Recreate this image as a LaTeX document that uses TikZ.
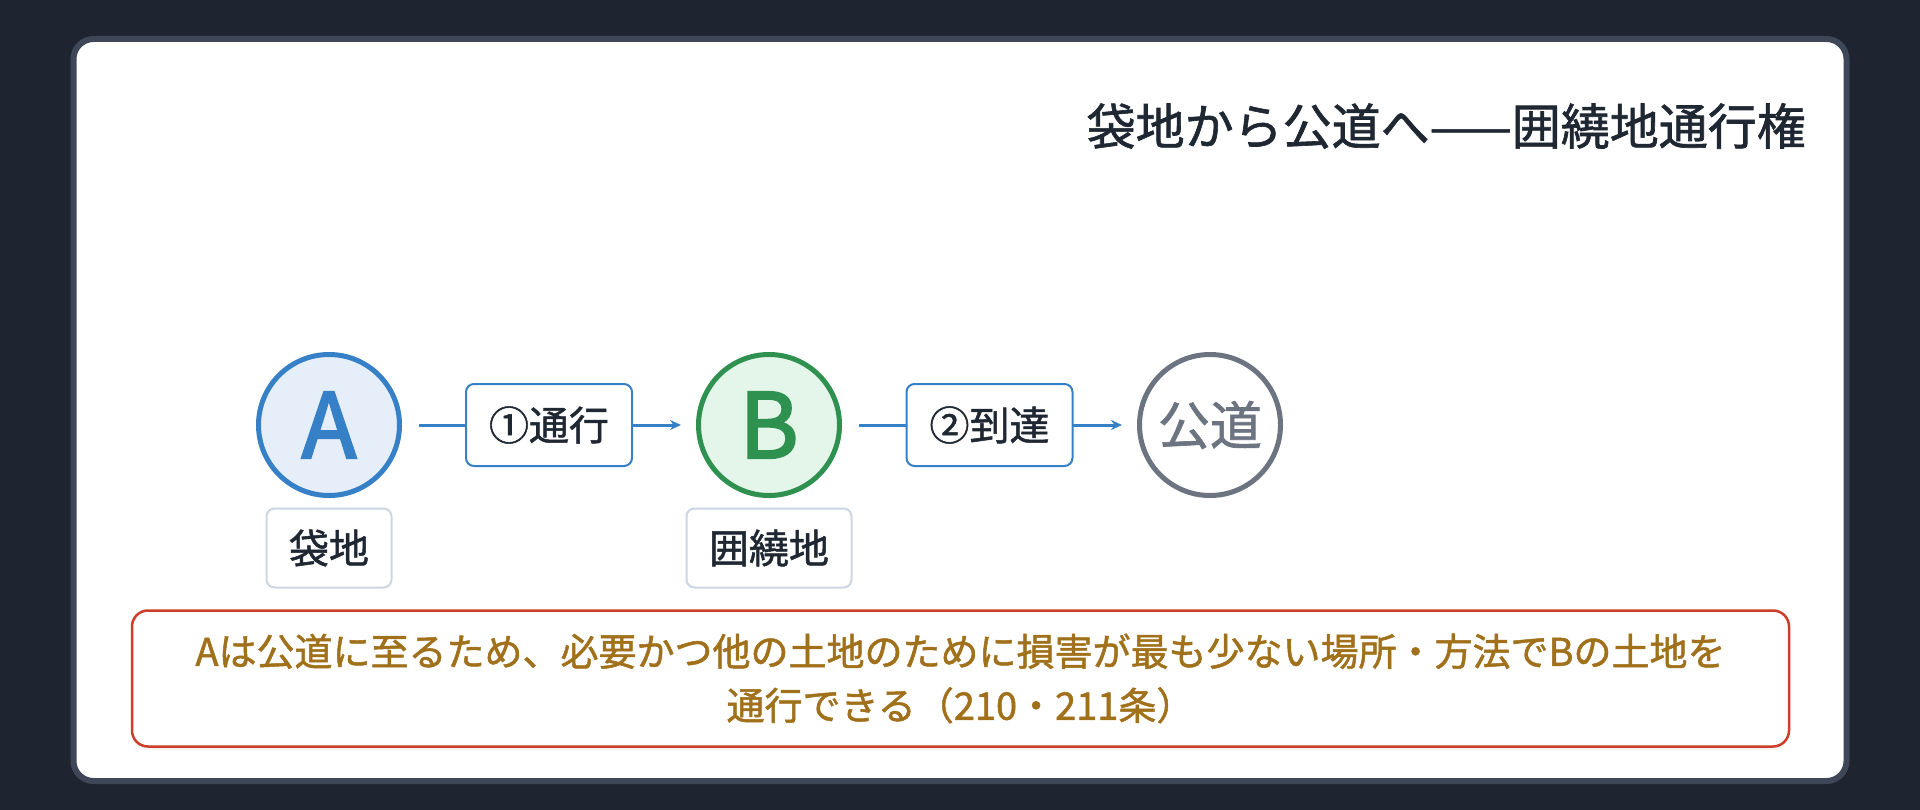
\documentclass[tikz,border=0pt]{standalone}
\usepackage{fontspec}
\setmainfont{Noto Sans CJK JP}
\newfontfamily\medfont{Noto Sans CJK JP}[FakeBold=1.3]
\newfontfamily\letterfont{Noto Sans CJK JP}[FakeBold=2.6]
\usetikzlibrary{shadows,arrows.meta}
\definecolor{bgdark}{HTML}{1E2430}
\definecolor{framegray}{HTML}{3E4757}
\definecolor{ablue}{HTML}{3580C6}
\definecolor{afill}{HTML}{E5EEF9}
\definecolor{bgreen}{HTML}{2F9150}
\definecolor{bfill}{HTML}{E4F5E9}
\definecolor{roadgray}{HTML}{6B7480}
\definecolor{tagborder}{HTML}{CDD6E2}
\definecolor{inkdark}{HTML}{1F2733}
\definecolor{notered}{HTML}{CC3D2A}
\definecolor{notegold}{HTML}{A0701A}
\tikzset{
  softshadow/.style={drop shadow={opacity=0.10,shadow xshift=0pt,shadow yshift=-3pt}},
  landcircle/.style={circle,minimum size=141,inner sep=0,line width=5,softshadow},
  tagbox/.style={draw=tagborder,line width=2,rounded corners=8,fill=white,inner xsep=22.5,inner ysep=0,minimum height=79,text=inkdark,font=\medfont\fontsize{40}{40}\selectfont},
  edgebox/.style={draw=ablue,line width=2,rounded corners=8,fill=white,inner xsep=23,inner ysep=0,minimum height=82,text=inkdark,font=\medfont\fontsize{40}{40}\selectfont},
  conn/.style={draw=ablue,line width=3,-{Stealth[length=11,width=10]},shorten <=17,shorten >=15},
}
\begin{document}
\begin{tikzpicture}[x=1pt,y=-1pt]
\useasboundingbox (0,0) rectangle (1920,810);
\fill[bgdark] (0,0) rectangle (1920,810);
\draw[framegray,line width=6,rounded corners=20,fill=white] (73.5,39) rectangle (1846.5,781);

\node[anchor=east,inner sep=0,text=inkdark,font=\medfont\fontsize{49}{49}\selectfont] (title) at (1806,126) {袋地から公道へ——囲繞地通行権};

\node[landcircle,draw=ablue,fill=afill,text=ablue,font=\letterfont\fontsize{90}{90}\selectfont] (A) at (329,425) {A};
\node[landcircle,draw=bgreen,fill=bfill,text=bgreen,font=\letterfont\fontsize{90}{90}\selectfont] (B) at (769,425) {B};
\node[landcircle,draw=roadgray,fill=white,text=roadgray,font=\medfont\fontsize{52}{52}\selectfont] (R) at (1210,425) {公道};

\node[tagbox] (LA) at (329,548) {袋地};
\node[tagbox] (LB) at (769,548) {囲繞地};

\draw[conn] (A) -- node[edgebox] (e1) {①通行} (B);
\draw[conn] (B) -- node[edgebox] (e2) {②到達} (R);

\node[draw=notered,line width=2.5,rounded corners=16,fill=white,softshadow,minimum width=1657,minimum height=136,align=center,text=notegold,font=\medfont\fontsize{38}{54}\selectfont] (note) at (960.5,678.5) {Aは公道に至るため、必要かつ他の土地のために損害が最も少ない場所・方法でBの土地を\\通行できる（210・211条）};
\end{tikzpicture}
\end{document}
